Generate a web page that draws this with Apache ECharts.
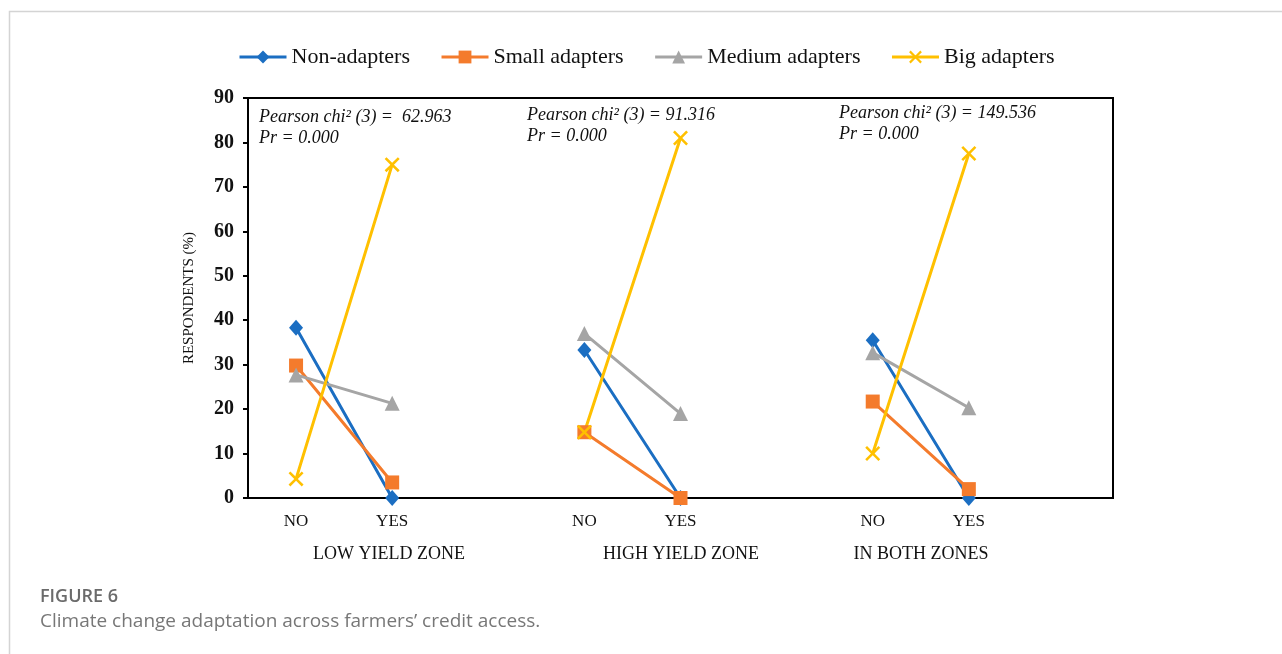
<!DOCTYPE html>
<html>
<head>
<meta charset="utf-8">
<script src="https://cdn.jsdelivr.net/npm/echarts@6/dist/echarts.min.js"></script>
<style>
  html, body { margin: 0; padding: 0; background: #fff; }
  #chart { width: 1282px; height: 654px; }
</style>
</head>
<body>
<div id="chart"></div>
<script>
// categories: two per zone plus an empty slot after each zone
var categories = ['NO', 'YES', '', 'NO', 'YES', '', 'NO', 'YES', ''];
var zones = ['LOW YIELD ZONE', 'HIGH YIELD ZONE', 'IN BOTH ZONES'];
var seriesNames = ['Non-adapters', 'Small adapters', 'Medium adapters', 'Big adapters'];

var nonAdapters    = [38.3, 0,   null, 33.3, 0,    null, 35.5, 0,    null];
var smallAdapters  = [29.8, 3.5, null, 14.8, 0,    null, 21.7, 2.0,  null];
var mediumAdapters = [27.7, 21.3, null, 37.0, 19.0, null, 32.7, 20.3, null];
var bigAdapters    = [4.3,  75.0, null, 14.8, 81.0, null, 10.0, 77.5, null];

var chiStats = ['62.963', '91.316', '149.536'];
var prValues = ['0.000', '0.000', '0.000'];

var serif = '"Liberation Serif", "DejaVu Serif", serif';
var sans = '"Open Sans", "Noto Sans", sans-serif';

var chart = echarts.init(document.getElementById('chart'));

function lineSeries(name, data, color, symbol, size) {
    return {
        name: name,
        type: 'line',
        data: data,
        connectNulls: false,
        symbol: symbol,
        symbolSize: size,
        lineStyle: { color: color, width: 3 },
        itemStyle: { color: color, borderColor: color, borderWidth: 0 }
    };
}

var xMark = 'path://M0,1.2 L1.2,0 L5,3.8 L8.8,0 L10,1.2 L6.2,5 L10,8.8 L8.8,10 L5,6.2 L1.2,10 L0,8.8 L3.8,5 Z';

// annotation positions for each zone
var notePos = [[259, 107], [527, 105], [839, 103]];
var zoneX = [389, 681, 921];

var graphics = [
    {
        type: 'rect',
        silent: true,
        shape: { x: 9.5, y: 11.5, width: 1400, height: 800 },
        style: { fill: 'none', stroke: '#d4d4d4', lineWidth: 1.5 }
    },
    {
        type: 'text', left: 40, top: 588,
        style: { text: 'FIGURE 6', font: '600 18px ' + sans, fill: '#6b6b6b' }
    },
    {
        type: 'text', left: 40, top: 612,
        style: { text: 'Climate change adaptation across farmers\u2019 credit access.', font: '19px ' + sans, fill: '#777' }
    }
];

zones.forEach(function (z, i) {
    graphics.push({
        type: 'text', x: zoneX[i], y: 554,
        style: { text: z, font: '18px ' + serif, fill: '#111', align: 'center', verticalAlign: 'middle' }
    });
    graphics.push({
        type: 'text', x: notePos[i][0], y: notePos[i][1],
        style: {
            text: 'Pearson chi\u00b2 (3) = ' + (i === 0 ? ' ' : '') + chiStats[i] + '\nPr = ' + prValues[i],
            font: 'italic 18px ' + serif, fill: '#111', lineHeight: 21
        }
    });
});

var option = {
    animation: false,
    backgroundColor: '#fff',
    legend: {
        left: 233,
        top: 41,
        itemWidth: 47,
        itemHeight: 16,
        itemGap: 30,
        lineStyle: { width: 3 },
        textStyle: { fontFamily: serif, fontSize: 22, color: '#111' },
        data: seriesNames
    },
    grid: {
        left: 248, top: 98, width: 865, height: 400,
        show: true, borderColor: '#000', borderWidth: 2
    },
    xAxis: {
        type: 'category',
        data: categories,
        boundaryGap: true,
        axisLine: { lineStyle: { color: '#000', width: 2 } },
        axisTick: { show: false },
        axisLabel: { fontFamily: serif, fontSize: 17, color: '#111', margin: 15 },
        splitLine: { show: false }
    },
    yAxis: {
        type: 'value',
        min: 0, max: 90, interval: 10,
        name: 'RESPONDENTS (%)',
        nameLocation: 'middle',
        nameGap: 51,
        nameTextStyle: { fontFamily: serif, fontSize: 15, color: '#111' },
        axisLine: { show: true, lineStyle: { color: '#000', width: 2 } },
        axisTick: { show: true, length: 5, lineStyle: { color: '#000', width: 2 } },
        axisLabel: { fontFamily: serif, fontSize: 20, fontWeight: 'bold', color: '#111', margin: 14 },
        splitLine: { show: false }
    },
    graphic: graphics,
    series: [
        lineSeries(seriesNames[0], nonAdapters, '#1b6ec2', 'diamond', [14, 16]),
        lineSeries(seriesNames[1], smallAdapters, '#f47b2c', 'rect', 14),
        lineSeries(seriesNames[2], mediumAdapters, '#a5a5a5', 'triangle', 15),
        lineSeries(seriesNames[3], bigAdapters, '#ffc000', xMark, 15)
    ]
};

chart.setOption(option);
</script>
</body>
</html>
